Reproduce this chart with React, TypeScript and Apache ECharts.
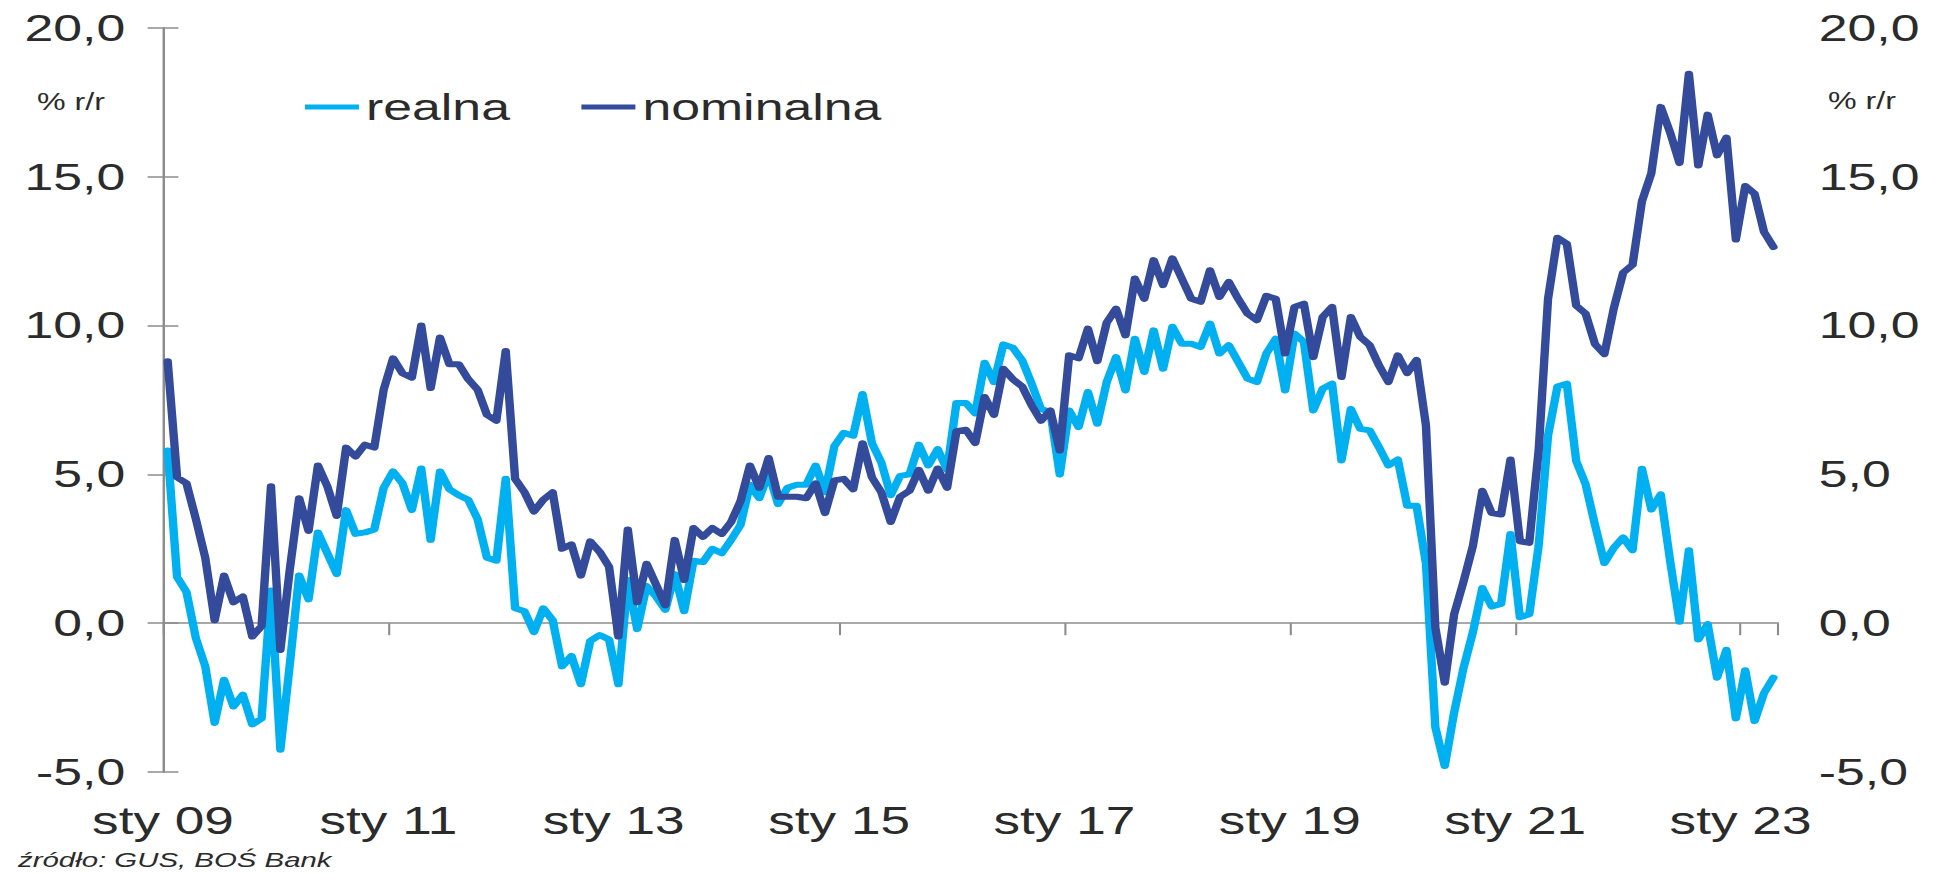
import React, { useEffect, useRef } from "react";
import * as echarts from "echarts";

// Monthly data, Jan 2009 – Apr 2023 (% r/r)
const realna: number[] = [
  5.8, 1.55, 1.05, -0.5, -1.45, -3.35, -1.9, -2.8, -2.4, -3.4, -3.2, 1.1,
  -4.25, -1.4, 1.6, 0.8, 3.05, 2.35, 1.65, 3.8, 3.0, 3.05, 3.15, 4.55,
  5.1, 4.7, 3.8, 5.2, 2.8, 5.1, 4.5, 4.3, 4.15, 3.5, 2.2, 2.1,
  4.85, 0.5, 0.4, -0.3, 0.5, 0.1, -1.45, -1.1, -2.05, -0.6, -0.4, -0.55,
  -2.05, 1.45, -0.2, 1.25, 0.9, 0.45, 1.65, 0.4, 2.1, 2.05, 2.5, 2.35,
  2.8, 3.3, 4.65, 4.2, 5.05, 4.0, 4.55, 4.65, 4.65, 5.3, 4.4, 5.95,
  6.4, 6.3, 7.7, 6.05, 5.4, 4.3, 4.95, 5.0, 6.0, 5.3, 5.85, 5.15,
  7.4, 7.4, 7.05, 8.75, 8.1, 9.37, 9.26, 8.83, 8.05, 7.2, 7.1, 5.0,
  7.15, 6.59, 7.77, 6.7, 8.1, 8.94, 7.82, 9.56, 8.44, 9.84, 8.55, 9.96,
  9.39, 9.39, 9.28, 10.07, 9.06, 9.34, 8.78, 8.22, 8.1, 9.06, 9.56, 7.82,
  9.73, 9.45, 7.15, 7.88, 8.05, 5.47, 7.2, 6.53, 6.48, 5.91, 5.3, 5.5,
  3.95, 3.95, 2.0, -3.5, -4.8, -3.0, -1.5, -0.3, 1.18, 0.56, 0.65, 3.0,
  0.2, 0.3, 2.6, 6.3, 7.95, 8.05, 5.45, 4.67, 3.3, 2.02, 2.53, 2.88,
  2.45, 5.19, 3.82, 4.33, 2.1, 0.05, 2.45, -0.55, -0.03, -1.83, -0.89, -3.2,
  -1.58, -3.29, -2.35, -1.83,
];

const nominalna: number[] = [
  8.8, 4.9, 4.7, 3.5, 2.2, 0.1, 1.6, 0.7, 0.9, -0.45, -0.1, 4.6,
  -0.9, 1.8, 4.2, 3.1, 5.3, 4.6, 3.6, 5.9, 5.6, 6.0, 5.9, 7.85,
  8.9, 8.4, 8.25, 10.0, 7.9, 9.6, 8.7, 8.7, 8.2, 7.85, 7.0, 6.8,
  9.15, 4.85, 4.4, 3.75, 4.15, 4.4, 2.5, 2.65, 1.6, 2.75, 2.4, 1.9,
  -0.45, 3.15, 0.7, 2.0, 1.3, 0.6, 2.8, 1.45, 3.2, 2.9, 3.2, 3.0,
  3.4, 4.1, 5.3, 4.55, 5.55, 4.25, 4.25, 4.25, 4.2, 4.7, 3.7, 4.8,
  4.85, 4.5, 6.05, 4.9, 4.4, 3.4, 4.25, 4.45, 5.15, 4.45, 5.2, 4.55,
  6.45, 6.5, 6.05, 7.6, 7.0, 8.55, 8.2, 7.95, 7.32, 6.8, 7.15, 5.8,
  9.0, 8.9, 9.9, 8.8, 10.1, 10.57, 9.67, 11.58, 10.9, 12.2, 11.36, 12.26,
  11.58, 10.9, 10.8, 11.86, 10.96, 11.47, 10.9, 10.4, 10.18, 11.0, 10.9, 9.06,
  10.63, 10.74, 8.94, 10.29, 10.63, 8.27, 10.29, 9.62, 9.34, 8.66, 8.1, 9.0,
  8.4, 8.85, 6.64, -0.15, -2.0, 0.3, 1.4, 2.6, 4.45, 3.7, 3.65, 5.5,
  2.75, 2.7, 5.8, 10.9, 12.95, 12.75, 10.67, 10.4, 9.38, 9.04, 10.58, 11.78,
  12.04, 14.18, 15.12, 17.35, 16.49, 15.46, 18.46, 15.38, 17.09, 15.72, 16.32, 12.89,
  14.69, 14.43, 13.15, 12.64,
];

const xTickLabels: string[] = [
  "sty 09", "sty 11", "sty 13", "sty 15", "sty 17", "sty 19", "sty 21", "sty 23",
];

const seriesNames: string[] = ["realna", "nominalna"];
const unitLabel = "% r/r";
const sourceLabel = "źródło: GUS, BOŚ Bank";

const SX = 1.4; // horizontal stretch of the reference
const FONT = "'Liberation Sans', Arial, Helvetica, sans-serif";
const TXT = "#2b2b2b";
const AXIS = "#8c8c8c";

export default function App() {
  const ref = useRef<HTMLDivElement>(null);

  useEffect(() => {
    if (!ref.current) return;
    const chart = echarts.init(ref.current, undefined, { renderer: "svg" });
    const toPts = (arr: number[]) => arr.map((v, i) => [i + 0.5, v]);
    const yFmt = (v: number) => v.toFixed(1).replace(".", ",");

    const yAxisCommon = {
      type: "value",
      min: -5,
      max: 20,
      interval: 5,
      splitLine: { show: false },
      axisLine: { show: true, lineStyle: { color: AXIS, width: 1.5 } },
      axisTick: { show: true, length: 11, lineStyle: { color: AXIS, width: 1.5 } },
    };

    chart.setOption({
      animation: false,
      backgroundColor: "#ffffff",
      textStyle: { fontFamily: FONT },
      grid: {
        left: 163 / SX,
        right: (1944 - 1777.5) / SX,
        top: 28,
        bottom: 103,
        containLabel: false,
        outerBoundsMode: "none",
      },
      legend: {
        data: seriesNames,
        left: 298 / SX,
        top: 82,
        icon: "rect",
        itemWidth: 54 / SX,
        itemHeight: 5,
        itemGap: 51,
        textStyle: { fontSize: 37, color: TXT, fontFamily: FONT, lineHeight: 40 },
      },
      xAxis: [
        {
          type: "value",
          min: 0,
          max: 172,
          interval: 24,
          axisLine: { show: true, onZero: true, lineStyle: { color: AXIS, width: 1.5 } },
          axisTick: { show: true, length: 12, lineStyle: { color: AXIS, width: 1.5 } },
          axisLabel: { show: false },
          splitLine: { show: false },
        },
        {
          type: "value",
          min: 0,
          max: 172,
          interval: 24,
          position: "bottom",
          axisLine: { show: false, onZero: false },
          axisTick: { show: false },
          splitLine: { show: false },
          axisLabel: {
            show: true,
            margin: 30,
            fontSize: 38,
            color: TXT,
            fontFamily: FONT,
            showMaxLabel: false,
            formatter: (v: number) =>
              v % 24 === 0 && xTickLabels[v / 24] ? xTickLabels[v / 24] : "",
          },
        },
      ],
      yAxis: [
        {
          ...yAxisCommon,
          position: "left",
          axisLabel: { margin: 27, fontSize: 37, color: TXT, fontFamily: FONT, formatter: yFmt },
        },
        {
          ...yAxisCommon,
          position: "right",
          axisLabel: { margin: 29, fontSize: 37, color: TXT, fontFamily: FONT, formatter: yFmt },
        },
      ],
      series: [
        {
          name: seriesNames[0],
          type: "line",
          xAxisIndex: 0,
          yAxisIndex: 0,
          data: toPts(realna),
          symbol: "none",
          color: "#00B0F0",
          lineStyle: { width: 6, color: "#00B0F0", join: "round", cap: "round" },
          z: 2,
        },
        {
          name: seriesNames[1],
          type: "line",
          xAxisIndex: 0,
          yAxisIndex: 0,
          data: toPts(nominalna),
          symbol: "none",
          color: "#344A9B",
          lineStyle: { width: 6, color: "#344A9B", join: "round", cap: "round" },
          z: 3,
        },
      ],
      graphic: [
        {
          type: "text",
          left: 37 / SX,
          top: 91,
          style: { text: unitLabel, fontSize: 23, fill: TXT, fontFamily: FONT },
        },
        {
          type: "text",
          left: 1828 / SX,
          top: 90,
          style: { text: unitLabel, fontSize: 23, fill: TXT, fontFamily: FONT },
        },
        {
          type: "text",
          left: 18 / SX,
          top: 849,
          style: {
            text: sourceLabel,
            fontSize: 21,
            fontStyle: "italic",
            fill: TXT,
            fontFamily: FONT,
          },
        },
      ],
    });
    return () => chart.dispose();
  }, []);

  return (
    <div
      style={{
        position: "absolute",
        left: 0,
        top: 0,
        width: 1944,
        height: 875,
        overflow: "hidden",
        background: "#fff",
      }}
    >
      <div
        ref={ref}
        style={{
          width: 1944 / SX,
          height: 875,
          transform: `scaleX(${SX})`,
          transformOrigin: "0 0",
        }}
      />
    </div>
  );
}
